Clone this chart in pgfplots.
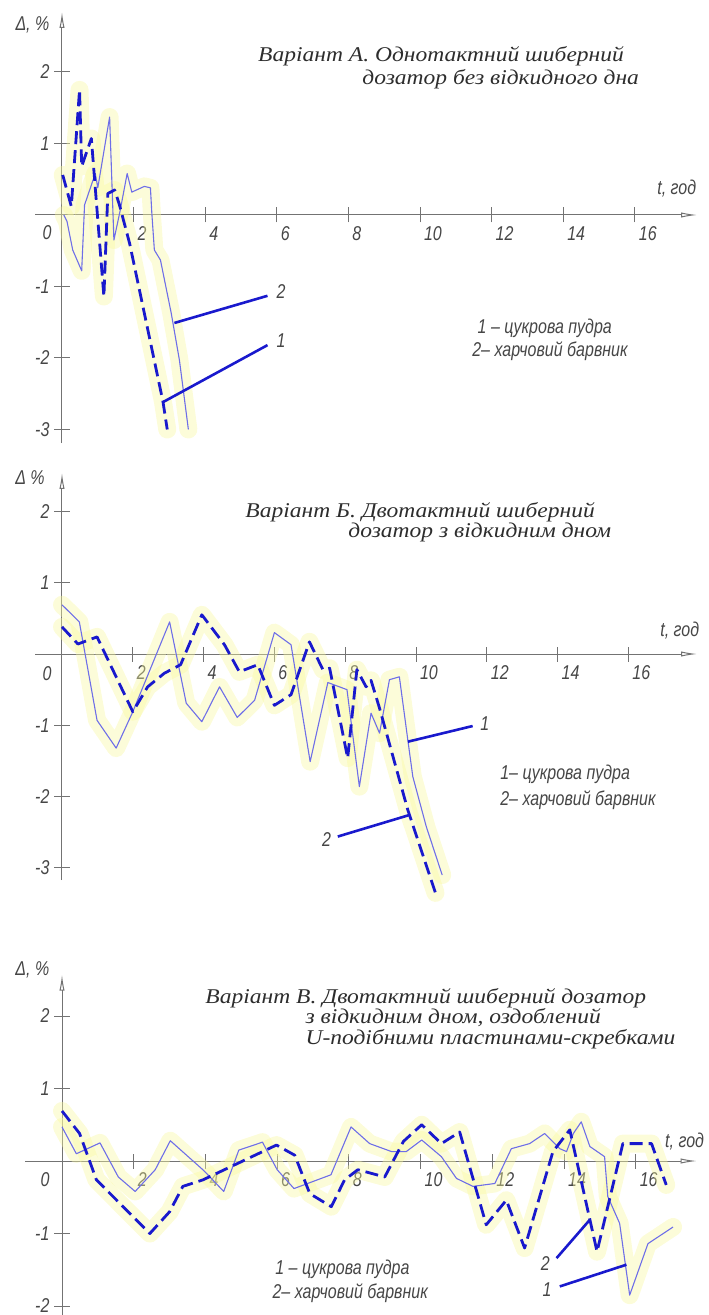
\documentclass[border=0pt]{standalone}
\usepackage{fontspec}
\usepackage{pgfplots}
\usepackage{pgfplotstable}
\pgfplotsset{compat=1.18}
\usetikzlibrary{arrows.meta}
\setmainfont{Liberation Serif}
\newfontfamily\gost[FakeStretch=0.8]{Liberation Sans}
\newfontfamily\ttl[FakeStretch=1.12]{Liberation Serif}
\definecolor{dblue}{RGB}{25,25,205}
\definecolor{lblue}{RGB}{110,110,232}
\definecolor{haloc}{RGB}{248,248,160}
\definecolor{axgray}{RGB}{115,115,115}
\definecolor{txt}{RGB}{70,70,70}
\definecolor{ttxt}{RGB}{45,45,45}

% Panel A
\pgfplotstableread{
x y
0.05 0.00
0.14 -0.09
0.30 -0.49
0.55 -0.78
0.63 0.14
0.93 0.58
1.00 0.38
1.33 1.37
1.45 -0.35
1.62 0.05
1.82 0.58
1.95 0.32
2.30 0.40
2.47 0.38
2.51 0.02
2.58 -0.49
2.75 -0.63
3.05 -1.37
3.28 -2.03
3.53 -3.00
}\Aone
\pgfplotstableread{
x y
0.02 0.56
0.26 0.12
0.49 1.75
0.55 0.68
0.82 1.07
1.17 -1.14
1.28 0.30
1.47 0.35
1.60 0.15
1.89 -0.40
2.82 -2.61
2.94 -3.00
}\Atwo
% Panel B
\pgfplotstableread{
x y
0.00 0.69
0.49 0.45
0.99 -0.93
1.53 -1.32
2.00 -0.81
3.04 0.45
3.51 -0.69
3.95 -0.95
4.45 -0.46
4.95 -0.89
5.44 -0.65
6.00 0.30
6.47 0.13
7.01 -1.51
7.51 -0.40
8.05 -0.50
8.40 -1.86
8.73 -0.83
8.97 -1.11
9.25 -0.36
9.53 -0.32
9.77 -1.21
9.91 -1.72
10.29 -2.42
10.74 -3.10
}\Bone
\pgfplotstableread{
x y
0.00 0.38
0.45 0.14
0.99 0.24
2.00 -0.81
2.42 -0.46
2.89 -0.27
3.35 -0.15
3.95 0.55
4.59 0.13
5.01 -0.25
5.53 -0.15
6.00 -0.72
6.47 -0.57
6.99 0.17
7.37 -0.22
7.56 -0.20
8.07 -1.46
8.33 -0.22
8.59 -0.46
8.73 -0.37
8.97 -0.76
9.77 -2.19
10.55 -3.35
}\Btwo
% Panel C
\pgfplotstableread{
x y
0.00 0.47
0.40 0.10
1.06 0.25
1.57 -0.22
2.04 -0.42
2.60 -0.12
3.02 0.28
3.95 -0.13
4.51 -0.42
4.93 0.15
5.59 0.26
6.00 -0.12
6.47 -0.38
7.50 -0.19
8.06 0.47
8.58 0.24
9.19 0.13
9.60 0.13
10.03 0.29
10.58 0.06
11.00 -0.24
11.46 -0.35
12.07 -0.31
12.53 0.17
13.04 0.24
13.46 0.38
13.88 0.17
14.07 0.13
14.26 0.38
14.48 0.54
14.72 0.20
15.13 0.06
15.22 -0.49
15.55 -0.86
15.83 -1.85
16.34 -1.14
17.04 -0.91
}\Cone
\pgfplotstableread{
x y
0.00 0.69
0.49 0.38
0.96 -0.26
2.45 -1.00
3.00 -0.70
3.37 -0.35
3.93 -0.26
5.98 0.22
6.49 0.08
6.91 -0.45
7.51 -0.63
7.88 -0.26
8.25 -0.12
9.00 -0.22
9.52 0.27
10.03 0.50
10.58 0.24
11.09 0.40
11.83 -0.88
12.39 -0.54
12.90 -1.20
13.69 0.13
14.16 0.43
14.92 -1.25
15.64 0.24
16.44 0.24
16.85 -0.33
}\Ctwo

\newcommand{\gf}{\gost\itshape\fontsize{10}{12}\selectfont}
\newcommand{\tf}{\ttl\itshape\fontsize{10.5}{12}\selectfont}

\tikzset{
  halostyle/.style={draw=haloc, opacity=0.4, line width=9pt, line join=round, line cap=round},
  c1/.style={lblue, line width=0.55pt, line join=round},
  c2/.style={dblue, line width=1.4pt, dash pattern=on 6.5pt off 3pt, line join=round},
  lead/.style={dblue, line width=1.3pt},
}
\pgfplotsset{
  panel/.style={
    axis lines=middle, clip=false, anchor=origin,
    axis line style={axgray, line width=0.5pt, -{Latex[open,length=8pt,width=2.6pt]}},
    tick style={axgray, line width=0.5pt},
    tick align=center, major tick length=7.5pt,
    xtick={2,4,...,16}, xticklabels={2,4,6,8,10,12,14,16},
    xticklabel style={font=\gf, text=txt, anchor=north west, xshift=-1.5pt, yshift=1.5pt},
    yticklabel style={font=\gf, text=txt, anchor=east, xshift=1pt},
    xlabel={}, ylabel={},
  },
}

\begin{document}
\begin{tikzpicture}
\useasboundingbox (0,0) rectangle (354pt,-657.5pt);

% ---------- Panel A ----------
\begin{axis}[panel, at={(31pt,-107.5pt)}, x=17.9pt, y=35.75pt,
  xmin=-0.75, xmax=17.74, ymin=-3.19, ymax=2.84,
  ytick={-3,-2,-1,1,2}, yticklabels={-3,-2,-1,1,2}]
\addplot[halostyle] table {\Aone};
\addplot[halostyle] table {\Atwo};
\addplot[c1] table {\Aone};
\addplot[c2] table {\Atwo};
\draw[lead] (axis cs:3.14,-1.51) -- (axis cs:5.74,-1.13);
\draw[lead] (axis cs:2.81,-2.62) -- (axis cs:5.74,-1.82);
\node[font=\gf, text=txt, anchor=west] at (axis cs:5.8,-1.07) {2};
\node[font=\gf, text=txt, anchor=west] at (axis cs:5.8,-1.76) {1};
\node[font=\gf, text=txt, anchor=base west, inner sep=0pt] at (axis cs:11.6,-1.66) {1 – цукрова пудра};
\node[font=\gf, text=txt, anchor=base west, inner sep=0pt] at (axis cs:11.45,-1.98) {2– харчовий барвник};
\node[font=\tf, text=ttxt, anchor=base west, inner sep=0pt] at (axis cs:5.47,2.14) {Варіант А. Однотактний шиберний};
\node[font=\tf, text=ttxt, anchor=base west, inner sep=0pt] at (axis cs:8.38,1.83) {дозатор без відкидного дна};
\node[font=\gf, text=txt, anchor=west, inner sep=0pt] at (axis cs:-1.31,2.66) {Δ, \%};
\node[font=\gf, text=txt, anchor=base west, inner sep=0pt] at (axis cs:16.62,0.28) {t, год};
\node[font=\gf, text=txt] at (axis cs:-0.42,-0.25) {0};
\end{axis}

% ---------- Panel B ----------
\begin{axis}[panel, at={(31pt,-327pt)}, x=17.7pt, y=35.65pt,
  xmin=-0.76, xmax=17.94, ymin=-3.17, ymax=2.54,
  ytick={-3,-2,-1,1,2}, yticklabels={-3,-2,-1,1,2}]
\addplot[halostyle] table {\Bone};
\addplot[halostyle] table {\Btwo};
\addplot[c1] table {\Bone};
\addplot[c2] table {\Btwo};
\draw[lead] (axis cs:9.77,-1.23) -- (axis cs:11.6,-1.01);
\draw[lead] (axis cs:9.80,-2.26) -- (axis cs:7.79,-2.56);
\node[font=\gf, text=txt, anchor=west] at (axis cs:11.62,-0.97) {1};
\node[font=\gf, text=txt, anchor=east] at (axis cs:7.8,-2.6) {2};
\node[font=\gf, text=txt, anchor=base west, inner sep=0pt] at (axis cs:12.37,-1.76) {1– цукрова пудра};
\node[font=\gf, text=txt, anchor=base west, inner sep=0pt] at (axis cs:12.37,-2.13) {2– харчовий барвник};
\node[font=\tf, text=ttxt, anchor=base west, inner sep=0pt] at (axis cs:5.17,1.92) {Варіант Б. Двотактний шиберний};
\node[font=\tf, text=ttxt, anchor=base west, inner sep=0pt] at (axis cs:8.08,1.64) {дозатор з відкидним дном};
\node[font=\gf, text=txt, anchor=west, inner sep=0pt] at (axis cs:-1.33,2.47) {Δ \%};
\node[font=\gf, text=txt, anchor=base west, inner sep=0pt] at (axis cs:16.89,0.24) {t, год};
\node[font=\gf, text=txt] at (axis cs:-0.42,-0.27) {0};
\end{axis}

% ---------- Panel C ----------
\begin{axis}[panel, at={(31pt,-580.5pt)}, x=17.93pt, y=36.25pt,
  xmin=-1.03, xmax=17.7, ymin=-2.12, ymax=2.57,
  ytick={-2,-1,1,2}, yticklabels={-2,-1,1,2}]
\addplot[halostyle] table {\Cone};
\addplot[halostyle] table {\Ctwo};
\addplot[c1] table {\Cone};
\addplot[c2] table {\Ctwo};
\draw[lead] (axis cs:13.79,-1.34) -- (axis cs:14.72,-0.81);
\draw[lead] (axis cs:13.88,-1.73) -- (axis cs:15.74,-1.43);
\node[font=\gf, text=txt, anchor=east] at (axis cs:13.8,-1.42) {2};
\node[font=\gf, text=txt, anchor=east] at (axis cs:13.85,-1.77) {1};
\node[font=\gf, text=txt, anchor=base west, inner sep=0pt] at (axis cs:5.94,-1.56) {1 – цукрова пудра};
\node[font=\gf, text=txt, anchor=base west, inner sep=0pt] at (axis cs:5.86,-1.90) {2– харчовий барвник};
\node[font=\tf, text=ttxt, anchor=base west, inner sep=0pt] at (axis cs:3.99,2.17) {Варіант В. Двотактний шиберний дозатор};
\node[font=\tf, text=ttxt, anchor=base west, inner sep=0pt] at (axis cs:6.78,1.89) {з відкидним дном, оздоблений};
\node[font=\tf, text=ttxt, anchor=base west, inner sep=0pt] at (axis cs:6.78,1.61) {U-подібними пластинами-скребками};
\node[font=\gf, text=txt, anchor=west, inner sep=0pt] at (axis cs:-1.31,2.63) {Δ, \%};
\node[font=\gf, text=txt, anchor=base west, inner sep=0pt] at (axis cs:16.81,0.19) {t, год};
\node[font=\gf, text=txt] at (axis cs:-0.47,-0.26) {0};
\end{axis}
\end{tikzpicture}
\end{document}
